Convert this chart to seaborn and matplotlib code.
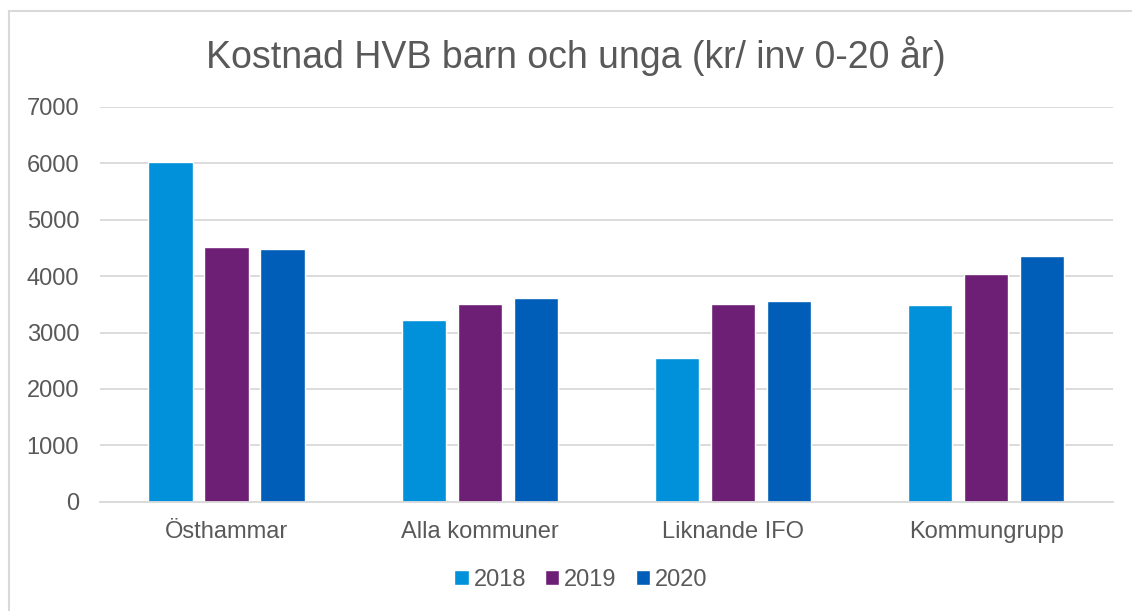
import matplotlib
matplotlib.use("Agg")
import matplotlib.pyplot as plt
import seaborn as sns
import pandas as pd
from matplotlib.patches import Rectangle

# ------------------------------------------------------------
# Data (kr per invånare 0-20 år)
# ------------------------------------------------------------

categories = ["Östhammar", "Alla kommuner", "Liknande IFO", "Kommungrupp"]
years = ["2018", "2019", "2020"]

values_2018 = [6020, 3230, 2540, 3490]
values_2019 = [4515, 3510, 3500, 4045]
values_2020 = [4485, 3610, 3560, 4355]

y_ticks = [0, 1000, 2000, 3000, 4000, 5000, 6000, 7000]
title = "Kostnad HVB barn och unga (kr/ inv 0-20 år)"

colors = ["#0091DA", "#6D1F75", "#005EB8"]
text_color = "#595959"
grid_color = "#D9D9D9"

df = pd.DataFrame({
    "kategori": categories * 3,
    "år": [y for y in years for _ in categories],
    "kostnad": values_2018 + values_2019 + values_2020,
})

# ------------------------------------------------------------
# Figure
# ------------------------------------------------------------

sns.set_style("white")
plt.rcParams["font.family"] = ["Liberation Sans", "DejaVu Sans"]

fig = plt.figure(figsize=(11.32, 6.11), dpi=100)
ax = fig.add_axes([0.0883, 0.1789, 0.8947, 0.6461])

sns.barplot(
    data=df,
    x="kategori",
    y="kostnad",
    hue="år",
    palette=colors,
    width=0.664,
    gap=0.21,
    saturation=1,
    errorbar=None,
    ax=ax,
)

ax.set_ylim(0, 7000)
ax.set_yticks(y_ticks)
ax.set_yticklabels([str(t) for t in y_ticks])
ax.set_xlabel("")
ax.set_ylabel("")

ax.grid(axis="y", color=grid_color, linewidth=1.3)
ax.set_axisbelow(True)
for side in ["top", "right", "left"]:
    ax.spines[side].set_visible(False)
ax.spines["bottom"].set_color(grid_color)
ax.spines["bottom"].set_linewidth(1.3)

ax.tick_params(axis="both", length=0, labelsize=17, colors=text_color)
ax.tick_params(axis="y", pad=15)
ax.tick_params(axis="x", pad=14)

fig.suptitle(title, x=0.509, y=0.908, va="center",
             fontsize=27, color=text_color)

handles, labels = ax.get_legend_handles_labels()
ax.legend(
    handles, labels,
    loc="center",
    bbox_to_anchor=(0.513, 0.0507),
    bbox_transform=fig.transFigure,
    ncol=3,
    frameon=False,
    fontsize=17,
    labelcolor=text_color,
    handlelength=0.62,
    handleheight=0.62,
    handletextpad=0.2,
    columnspacing=0.8,
)

# chart border (top and left edges visible in the crop)
fig.add_artist(Rectangle(
    (9 / 1132, -0.1), 1.2, 1 - 11 / 611 + 0.1,
    transform=fig.transFigure, fill=False,
    edgecolor=grid_color, linewidth=1.5,
))

fig.savefig("out.png", dpi=100)
